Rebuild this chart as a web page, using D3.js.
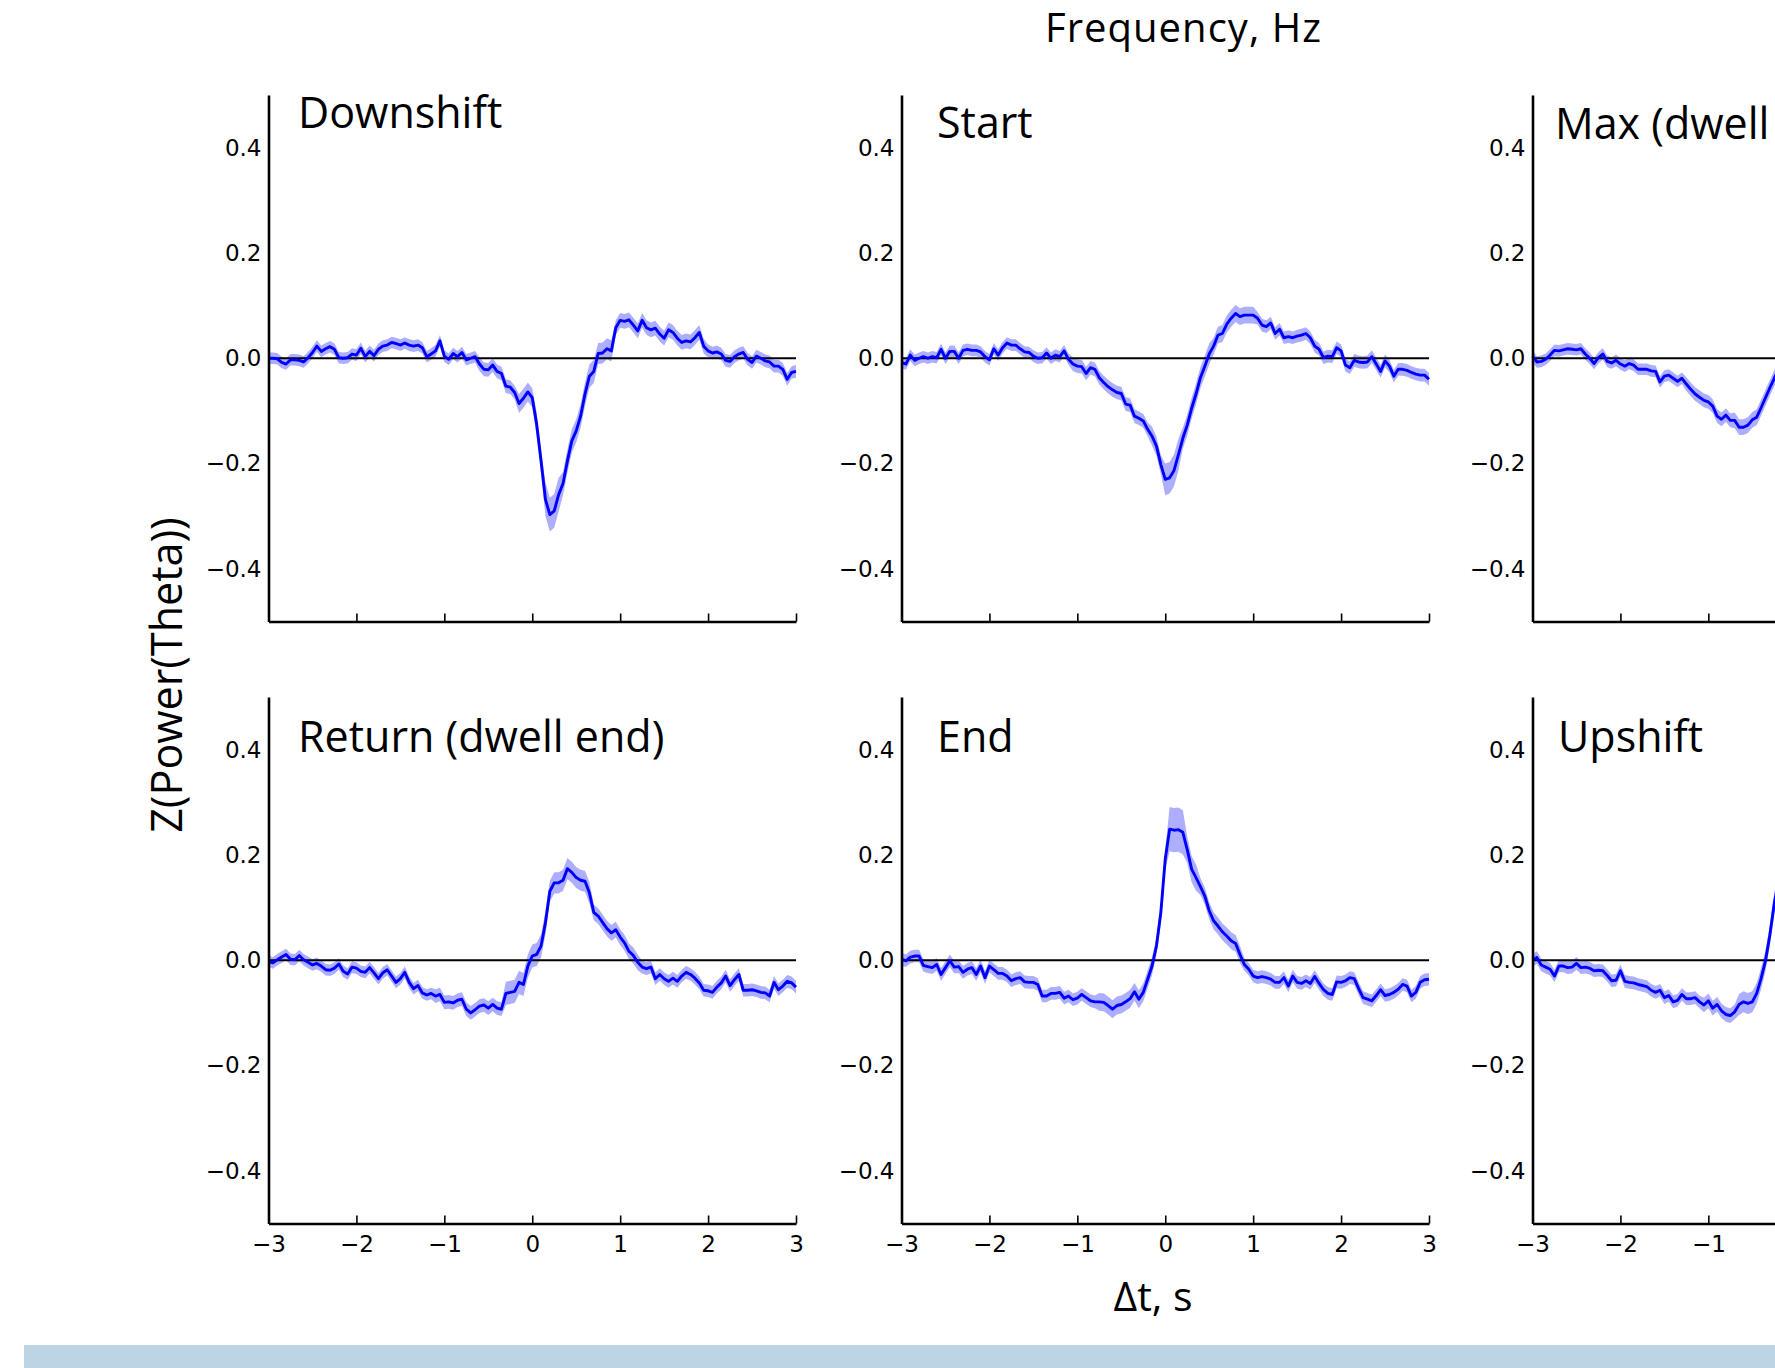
<!DOCTYPE html>
<html>
<head>
<meta charset="utf-8">
<script src="https://cdn.jsdelivr.net/npm/d3@7/dist/d3.min.js"></script>
<style>
  html, body { margin: 0; padding: 0; background: #fff; }
  svg { display: block; }
  .tick text { font-family: "DejaVu Sans", sans-serif; font-size: 23px; fill: #000; }
  .label { font-family: "Open Sans", sans-serif; fill: #000; }
</style>
</head>
<body>
<svg id="chart" width="1775" height="1368"></svg>
<script>
// Event-locked theta power (z-scored), mean ± SEM, sampled every 50 ms from -3 s to +3 s.
const t0 = -3, dt = 0.05;

const xTicks = [-3, -2, -1, 0, 1, 2, 3];
const yTicks = [-0.4, -0.2, 0.0, 0.2, 0.4];

const titles = ["Downshift", "Start", "Max (dwell", "Return (dwell end)", "End", "Upshift"];

const downshiftMean = [0.000,0.000,-0.001,-0.008,-0.011,-0.003,-0.003,-0.004,-0.007,0.001,
  0.011,0.023,0.013,0.018,0.022,0.017,0.001,0.000,0.001,0.008,
  0.006,0.019,0.003,0.013,0.005,0.017,0.023,0.025,0.030,0.028,
  0.025,0.029,0.025,0.023,0.025,0.020,0.003,0.008,0.014,0.033,
  0.004,-0.002,0.009,0.003,0.011,-0.003,0.000,0.003,-0.011,-0.021,
  -0.022,-0.013,-0.025,-0.029,-0.053,-0.055,-0.065,-0.086,-0.076,-0.064,
  -0.075,-0.125,-0.195,-0.268,-0.297,-0.290,-0.259,-0.238,-0.195,-0.157,
  -0.138,-0.110,-0.068,-0.034,-0.025,0.009,0.010,0.018,0.014,0.058,
  0.072,0.070,0.073,0.063,0.052,0.072,0.058,0.054,0.057,0.046,
  0.038,0.054,0.049,0.038,0.030,0.033,0.031,0.039,0.049,0.023,
  0.014,0.010,0.012,0.008,-0.004,-0.006,0.003,0.008,0.011,-0.002,
  -0.008,0.004,0.000,-0.005,-0.007,-0.015,-0.015,-0.021,-0.040,-0.027,-0.025];
const downshiftSem = [
  0.011,0.011,0.011,0.011,0.011,0.011,0.011,0.011,0.011,0.011,
  0.011,0.011,0.011,0.011,0.011,0.011,0.011,0.011,0.011,0.011,
  0.011,0.011,0.011,0.011,0.011,0.011,0.011,0.011,0.011,0.011,
  0.011,0.011,0.011,0.011,0.011,0.011,0.011,0.011,0.011,0.011,
  0.011,0.011,0.011,0.011,0.011,0.011,0.011,0.011,0.013,0.013,
  0.013,0.013,0.013,0.013,0.013,0.013,0.013,0.018,0.018,0.018,
  0.018,0.022,0.022,0.032,0.032,0.032,0.032,0.022,0.022,0.022,
  0.022,0.022,0.022,0.022,0.022,0.020,0.020,0.020,0.020,0.014,
  0.014,0.014,0.014,0.014,0.014,0.014,0.014,0.014,0.014,0.014,
  0.014,0.014,0.014,0.014,0.014,0.014,0.014,0.014,0.014,0.014,
  0.012,0.012,0.012,0.012,0.012,0.012,0.012,0.012,0.012,0.012,
  0.012,0.012,0.012,0.012,0.012,0.012,0.012,0.012,0.012,0.012,0.012];

const startMean = [-0.008,-0.011,0.006,-0.004,0.000,0.003,0.000,0.003,0.001,0.017,
  0.000,0.013,0.013,0.000,0.015,0.017,0.015,0.015,0.012,0.003,
  -0.003,0.018,0.006,0.020,0.029,0.025,0.025,0.018,0.012,0.011,
  0.004,0.000,0.001,0.010,0.000,0.006,0.003,0.014,-0.002,-0.011,
  -0.015,-0.016,-0.029,-0.018,-0.021,-0.037,-0.046,-0.054,-0.060,-0.065,
  -0.067,-0.087,-0.089,-0.110,-0.114,-0.119,-0.135,-0.148,-0.167,-0.202,
  -0.230,-0.227,-0.213,-0.183,-0.152,-0.127,-0.095,-0.068,-0.037,-0.015,
  0.008,0.023,0.044,0.047,0.065,0.076,0.085,0.079,0.082,0.082,
  0.082,0.076,0.063,0.060,0.067,0.047,0.055,0.039,0.041,0.039,
  0.042,0.044,0.047,0.039,0.023,0.017,0.001,0.004,0.003,0.020,
  0.014,-0.013,-0.018,-0.004,-0.007,-0.008,-0.007,0.003,-0.011,-0.025,
  -0.005,-0.015,-0.034,-0.021,-0.021,-0.023,-0.027,-0.030,-0.032,-0.032,-0.040];
const startSem = [
  0.011,0.011,0.011,0.011,0.011,0.011,0.011,0.011,0.011,0.011,
  0.011,0.011,0.011,0.011,0.011,0.011,0.011,0.011,0.011,0.011,
  0.011,0.011,0.011,0.011,0.011,0.011,0.011,0.011,0.011,0.011,
  0.011,0.011,0.011,0.011,0.011,0.011,0.011,0.011,0.011,0.013,
  0.013,0.013,0.013,0.013,0.013,0.013,0.013,0.013,0.013,0.013,
  0.013,0.013,0.013,0.013,0.013,0.013,0.013,0.018,0.018,0.018,
  0.030,0.030,0.030,0.030,0.020,0.020,0.020,0.020,0.020,0.020,
  0.020,0.016,0.016,0.016,0.016,0.016,0.016,0.016,0.016,0.016,
  0.016,0.012,0.012,0.012,0.012,0.012,0.012,0.012,0.012,0.012,
  0.012,0.012,0.012,0.012,0.012,0.012,0.012,0.012,0.012,0.012,
  0.012,0.012,0.012,0.012,0.012,0.012,0.012,0.012,0.012,0.012,
  0.012,0.012,0.012,0.012,0.012,0.012,0.012,0.012,0.012,0.012,0.012];

// Only the first 2.8 s of the third column fall inside the figure.
const maxMean = [0.004,-0.007,-0.006,-0.002,0.006,0.015,0.014,0.016,0.018,0.017,
  0.016,0.018,0.008,0.000,-0.010,0.001,0.008,-0.006,-0.009,-0.004,
  -0.011,-0.015,-0.010,-0.013,-0.021,-0.021,-0.021,-0.024,-0.025,-0.045,
  -0.034,-0.032,-0.038,-0.044,-0.038,-0.049,-0.059,-0.068,-0.074,-0.080,
  -0.083,-0.091,-0.110,-0.116,-0.108,-0.118,-0.118,-0.131,-0.131,-0.127,
  -0.117,-0.112,-0.094,-0.075,-0.056,-0.038,-0.021];
const maxSem = [
  0.011,0.011,0.011,0.011,0.011,0.011,0.011,0.011,0.011,0.011,
  0.011,0.011,0.011,0.011,0.011,0.011,0.011,0.011,0.011,0.011,
  0.011,0.011,0.011,0.011,0.011,0.011,0.011,0.011,0.011,0.011,
  0.011,0.011,0.011,0.011,0.011,0.013,0.013,0.013,0.013,0.013,
  0.013,0.013,0.013,0.013,0.013,0.013,0.015,0.015,0.015,0.015,
  0.015,0.015,0.015,0.015,0.015,0.015,0.015];

const returnMean = [-0.002,-0.005,0.001,0.006,0.011,0.002,0.001,0.009,0.001,-0.004,
  -0.009,-0.006,-0.011,-0.018,-0.019,-0.015,-0.007,-0.021,-0.026,-0.013,
  -0.015,-0.021,-0.023,-0.014,-0.024,-0.035,-0.024,-0.018,-0.030,-0.042,
  -0.035,-0.023,-0.042,-0.054,-0.048,-0.062,-0.066,-0.063,-0.068,-0.065,
  -0.080,-0.079,-0.081,-0.076,-0.074,-0.093,-0.100,-0.094,-0.087,-0.085,
  -0.091,-0.084,-0.091,-0.093,-0.063,-0.061,-0.059,-0.042,-0.046,-0.011,
  0.008,0.011,0.027,0.071,0.131,0.147,0.147,0.152,0.174,0.167,
  0.157,0.152,0.150,0.128,0.091,0.084,0.072,0.060,0.052,0.058,
  0.044,0.033,0.017,0.009,-0.004,-0.013,-0.016,-0.013,-0.035,-0.027,
  -0.035,-0.040,-0.034,-0.040,-0.030,-0.023,-0.027,-0.034,-0.043,-0.057,
  -0.058,-0.061,-0.051,-0.043,-0.030,-0.048,-0.037,-0.027,-0.057,-0.057,
  -0.056,-0.058,-0.061,-0.062,-0.068,-0.042,-0.056,-0.049,-0.040,-0.043,-0.051];
const returnSem = [
  0.011,0.011,0.011,0.011,0.011,0.011,0.011,0.011,0.011,0.011,
  0.011,0.011,0.011,0.011,0.011,0.011,0.011,0.011,0.011,0.011,
  0.011,0.011,0.011,0.011,0.011,0.011,0.011,0.011,0.011,0.011,
  0.011,0.011,0.011,0.011,0.011,0.011,0.011,0.011,0.013,0.013,
  0.013,0.013,0.013,0.013,0.013,0.013,0.013,0.013,0.013,0.013,
  0.013,0.013,0.013,0.013,0.022,0.022,0.022,0.022,0.022,0.022,
  0.022,0.022,0.022,0.022,0.020,0.020,0.020,0.020,0.020,0.020,
  0.020,0.020,0.020,0.020,0.015,0.015,0.015,0.015,0.015,0.015,
  0.015,0.015,0.015,0.015,0.015,0.012,0.012,0.012,0.012,0.012,
  0.012,0.012,0.012,0.012,0.012,0.012,0.012,0.012,0.012,0.012,
  0.012,0.012,0.012,0.012,0.012,0.012,0.012,0.012,0.012,0.012,
  0.012,0.012,0.012,0.012,0.012,0.012,0.012,0.012,0.012,0.012,0.012];

const endMean = [0.002,-0.001,0.006,0.008,0.008,-0.010,-0.012,-0.014,-0.008,-0.027,
  -0.014,-0.001,-0.013,-0.012,-0.023,-0.017,-0.014,-0.027,-0.011,-0.033,
  -0.011,-0.018,-0.025,-0.025,-0.030,-0.039,-0.035,-0.033,-0.041,-0.042,
  -0.042,-0.046,-0.068,-0.068,-0.063,-0.063,-0.061,-0.072,-0.068,-0.075,
  -0.072,-0.065,-0.071,-0.077,-0.079,-0.079,-0.080,-0.086,-0.093,-0.086,
  -0.084,-0.079,-0.073,-0.060,-0.074,-0.061,-0.036,-0.011,0.027,0.091,
  0.192,0.249,0.247,0.248,0.243,0.210,0.173,0.157,0.140,0.122,
  0.094,0.075,0.065,0.054,0.046,0.037,0.032,0.011,-0.008,-0.017,
  -0.030,-0.033,-0.031,-0.033,-0.036,-0.042,-0.042,-0.033,-0.049,-0.030,
  -0.042,-0.044,-0.039,-0.044,-0.031,-0.044,-0.056,-0.063,-0.065,-0.041,
  -0.042,-0.039,-0.033,-0.035,-0.054,-0.071,-0.074,-0.077,-0.067,-0.056,
  -0.067,-0.065,-0.061,-0.055,-0.046,-0.049,-0.068,-0.061,-0.042,-0.037,-0.036];
const endSem = [
  0.012,0.012,0.012,0.012,0.012,0.012,0.012,0.012,0.012,0.012,
  0.012,0.012,0.012,0.012,0.012,0.012,0.012,0.012,0.012,0.012,
  0.012,0.012,0.012,0.012,0.012,0.012,0.012,0.012,0.012,0.012,
  0.012,0.012,0.012,0.012,0.012,0.012,0.012,0.012,0.012,0.012,
  0.012,0.012,0.012,0.012,0.012,0.017,0.017,0.017,0.017,0.017,
  0.017,0.017,0.017,0.017,0.017,0.017,0.017,0.017,0.017,0.020,
  0.020,0.042,0.042,0.042,0.042,0.025,0.025,0.025,0.016,0.016,
  0.016,0.016,0.016,0.016,0.016,0.016,0.016,0.016,0.012,0.012,
  0.012,0.012,0.012,0.012,0.012,0.012,0.012,0.012,0.012,0.012,
  0.012,0.012,0.012,0.012,0.012,0.012,0.012,0.012,0.012,0.012,
  0.012,0.012,0.012,0.012,0.012,0.012,0.012,0.012,0.012,0.012,
  0.012,0.012,0.012,0.012,0.012,0.012,0.012,0.012,0.012,0.012,0.012];

const upshiftMean = [0.000,0.005,-0.009,-0.013,-0.017,-0.030,-0.011,-0.011,-0.014,-0.013,
  -0.006,-0.014,-0.013,-0.015,-0.020,-0.019,-0.020,-0.029,-0.039,-0.038,
  -0.020,-0.040,-0.042,-0.043,-0.046,-0.048,-0.050,-0.057,-0.061,-0.057,
  -0.071,-0.067,-0.079,-0.076,-0.065,-0.073,-0.073,-0.071,-0.079,-0.085,
  -0.077,-0.091,-0.084,-0.096,-0.103,-0.105,-0.098,-0.084,-0.079,-0.082,
  -0.079,-0.063,-0.035,-0.001,0.048,0.108,0.152];
const upshiftSem = [
  0.012,0.012,0.012,0.012,0.012,0.012,0.012,0.012,0.012,0.012,
  0.012,0.012,0.012,0.012,0.012,0.012,0.012,0.012,0.012,0.012,
  0.012,0.012,0.012,0.012,0.012,0.012,0.012,0.012,0.012,0.012,
  0.012,0.012,0.012,0.012,0.012,0.012,0.012,0.012,0.012,0.014,
  0.014,0.014,0.014,0.014,0.014,0.014,0.014,0.020,0.020,0.020,
  0.020,0.020,0.020,0.020,0.020,0.020,0.020];

const panelMeans = [downshiftMean, startMean, maxMean, returnMean, endMean, upshiftMean];
const panelSems  = [downshiftSem,  startSem,  maxSem,  returnSem,  endSem,  upshiftSem];

// ---- layout ----
const figW = 1775, figH = 1368;
const colX = [268.5, 901.5, 1532.5];
const rowY = [95, 697];
const pw = 527.5, ph = 526.5;
// title anchor (left, baseline) relative to each panel's origin
const titleOffsets = [[29.5, 33], [35.5, 43], [22.5, 44], [29.5, 55], [35.5, 55], [25.5, 55]];

const svg = d3.select("#chart");

const x = d3.scaleLinear().domain([-3, 3]).range([0, pw]);
const y = d3.scaleLinear().domain([-0.5, 0.5]).range([ph, 0]);
const yFmt = d3.format(".1f");
const xFmt = d3.format("d");

const area = d3.area()
  .x((d, i) => x(t0 + i * dt))
  .y0(d => y(d.m - d.s))
  .y1(d => y(d.m + d.s));
const line = d3.line()
  .x((d, i) => x(t0 + i * dt))
  .y(d => y(d.m));

titles.forEach((title, k) => {
  const col = k % 3, row = Math.floor(k / 3);
  const g = svg.append("g").attr("transform", `translate(${colX[col]},${rowY[row]})`);
  const pts = panelMeans[k].map((m, i) => ({ m, s: panelSems[k][i] }));

  g.append("path").datum(pts)
    .attr("d", area)
    .attr("fill", "#aeaeff")
    .attr("stroke", "none");

  g.append("line")
    .attr("x1", x(-3)).attr("x2", x(3))
    .attr("y1", y(0)).attr("y2", y(0))
    .attr("stroke", "#000").attr("stroke-width", 2.2);

  g.append("path").datum(pts)
    .attr("d", line)
    .attr("fill", "none")
    .attr("stroke", "#0000ff")
    .attr("stroke-width", 2.9)
    .attr("stroke-linejoin", "round");

  // y axis: labels only, no tick marks
  const ya = g.append("g")
    .call(d3.axisLeft(y).tickValues(yTicks).tickFormat(yFmt).tickSize(0).tickPadding(7));
  ya.select(".domain").attr("stroke", "#000").attr("stroke-width", 2.6);

  // x axis: inward ticks, labels on the bottom row only; ticks past the figure edge are dropped
  const visTicks = xTicks.filter(v => colX[col] + x(v) < figW);
  const xa = g.append("g")
    .attr("transform", `translate(0,${ph})`)
    .call(d3.axisBottom(x).tickValues(visTicks)
      .tickFormat(row === 1 ? xFmt : () => "")
      .tickSizeInner(-8).tickSizeOuter(0).tickPadding(12));
  xa.select(".domain").attr("stroke", "#000").attr("stroke-width", 2.6);
  xa.selectAll(".tick line").attr("stroke", "#000").attr("stroke-width", 1.6);

  g.append("text")
    .attr("class", "label")
    .attr("x", titleOffsets[k][0])
    .attr("y", titleOffsets[k][1])
    .attr("font-size", 43)
    .text(title);
});

svg.append("text").attr("class", "label")
  .attr("x", 1183).attr("y", 42)
  .attr("text-anchor", "middle").attr("font-size", 40)
  .attr("textLength", 276).attr("lengthAdjust", "spacing")
  .text("Frequency, Hz");

svg.append("text").attr("class", "label")
  .attr("x", 1153).attr("y", 1311)
  .attr("text-anchor", "middle").attr("font-size", 41)
  .text("Δt, s");

svg.append("text").attr("class", "label")
  .attr("transform", "translate(182,675) rotate(-90)")
  .attr("text-anchor", "middle").attr("font-size", 43)
  .text("Z(Power(Theta))");

svg.append("rect")
  .attr("x", 24).attr("y", 1345)
  .attr("width", figW - 24).attr("height", figH - 1345)
  .attr("fill", "#bcd4e3");
</script>
</body>
</html>
